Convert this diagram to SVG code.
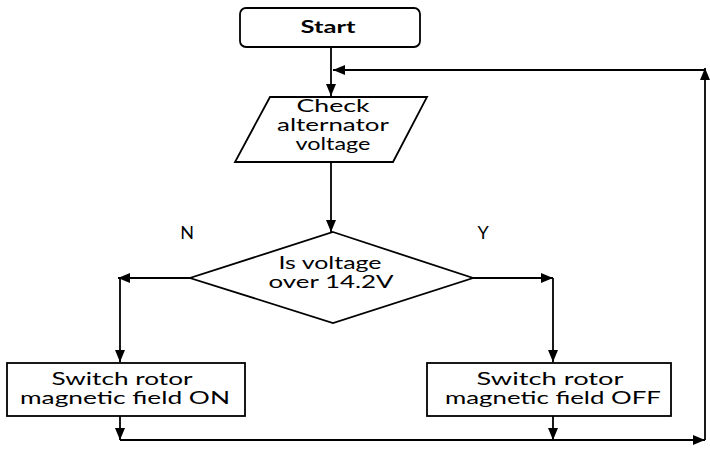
<svg xmlns="http://www.w3.org/2000/svg" width="710" height="476" viewBox="0 0 710 476">
<defs>
<marker id="ah" viewBox="0 0 12 10" refX="12" refY="5" markerWidth="12" markerHeight="10" markerUnits="userSpaceOnUse" orient="auto">
<path d="M0,0 L12,5 L0,10 Z" fill="#000"/>
</marker>
</defs>
<style>
.shape{fill:#fff;stroke:#000;stroke-width:1.8}
.edge{fill:none;stroke:#000;stroke-width:1.8}
.t{font-family:"Lato","Open Sans",sans-serif;font-size:16.5px;fill:#000;text-anchor:middle}
.lbl{font-family:"Lato","Open Sans",sans-serif;font-size:18px;fill:#000;text-anchor:middle}
</style>
<rect width="710" height="476" fill="#fff"/>
<g id="connectors">
<path class="edge" d="M331,47 V96" marker-end="url(#ah)"/>
<path class="edge" d="M705,70 H333" marker-end="url(#ah)"/>
<path class="edge" d="M331,162 V232" marker-end="url(#ah)"/>
<path class="edge" d="M190,278 H118" marker-end="url(#ah)"/>
<path class="edge" d="M120,278 V362" marker-end="url(#ah)"/>
<path class="edge" d="M473,278 H553" marker-end="url(#ah)"/>
<path class="edge" d="M553,278 V362" marker-end="url(#ah)"/>
<path class="edge" d="M120,416 V440" marker-end="url(#ah)"/>
<path class="edge" d="M553,416 V440" marker-end="url(#ah)"/>
<path class="edge" d="M120,440 H705" marker-end="url(#ah)"/>
<path class="edge" d="M705,440 V68" marker-end="url(#ah)"/>
</g>
<g id="start">
<rect class="shape" x="240" y="8" width="180" height="39" rx="6"/>
<text class="t" x="328" y="33" font-weight="bold" font-size="17" textLength="55" lengthAdjust="spacingAndGlyphs">Start</text>
</g>
<g id="check">
<polygon class="shape" points="270,97 427,97 393,162 235,162"/>
<text class="t" x="333" y="112" textLength="73" lengthAdjust="spacingAndGlyphs">Check</text>
<text class="t" x="333" y="131" textLength="112" lengthAdjust="spacingAndGlyphs">alternator</text>
<text class="t" x="333" y="150" textLength="75" lengthAdjust="spacingAndGlyphs">voltage</text>
</g>
<g id="decision">
<polygon class="shape" points="333,232 473,278 333,323 190,278"/>
<text class="t" x="330" y="269" textLength="103" lengthAdjust="spacingAndGlyphs">Is voltage</text>
<text class="t" x="331" y="288" textLength="125" lengthAdjust="spacingAndGlyphs">over 14.2V</text>
</g>
<g id="labels">
<text class="lbl" x="187" y="239">N</text>
<text class="lbl" x="483" y="239">Y</text>
</g>
<g id="on">
<rect class="shape" x="7" y="363" width="238" height="53"/>
<text class="t" x="122" y="385" textLength="141" lengthAdjust="spacingAndGlyphs">Switch rotor</text>
<text class="t" x="125" y="404" textLength="210" lengthAdjust="spacingAndGlyphs">magnetic field ON</text>
</g>
<g id="off">
<rect class="shape" x="427" y="363" width="244" height="53"/>
<text class="t" x="550" y="385" textLength="147" lengthAdjust="spacingAndGlyphs">Switch rotor</text>
<text class="t" x="553" y="404" textLength="216" lengthAdjust="spacingAndGlyphs">magnetic field OFF</text>
</g>
</svg>
